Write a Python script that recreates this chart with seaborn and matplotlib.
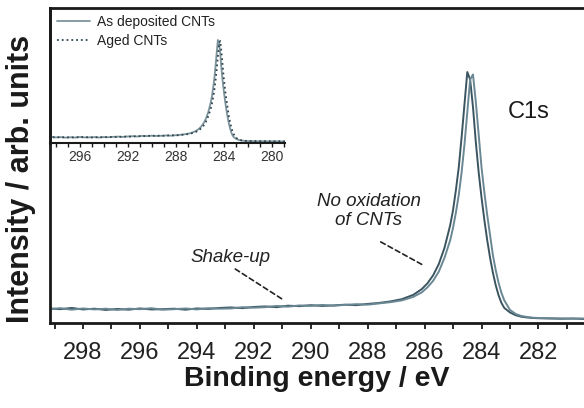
import numpy as np
import pandas as pd
import seaborn as sns
import matplotlib.pyplot as plt
from matplotlib.ticker import MultipleLocator

# Binding energy grid (eV)
energy = [299.2, 298.8, 298.4, 298.0, 297.6, 297.2, 296.8, 296.4, 296.0, 295.6,
          295.2, 294.8, 294.4, 294.0, 293.6, 293.2, 292.8, 292.4, 292.0, 291.6,
          291.2, 290.8, 290.4, 290.0, 289.6, 289.2, 288.8, 288.4, 288.0, 287.6,
          287.2, 286.8, 286.4,
          286.1, 285.9, 285.7, 285.5, 285.3, 285.1,
          285.0, 284.9, 284.8, 284.7, 284.6, 284.5, 284.4, 284.3, 284.2, 284.1,
          284.0, 283.9, 283.8, 283.7, 283.6, 283.5, 283.4, 283.3, 283.2,
          283.0, 282.8, 282.6, 282.4, 282.2, 282.0,
          281.6, 281.2, 280.8, 280.4, 280.0, 279.5, 279.0, 278.5]

# normalised C1s intensity, as deposited CNTs
as_deposited = [0.058, 0.055, 0.060, 0.054, 0.057, 0.052, 0.056, 0.053, 0.058, 0.054,
                0.055, 0.057, 0.053, 0.058, 0.056, 0.060, 0.062, 0.059, 0.064, 0.066,
                0.063, 0.069, 0.067, 0.071, 0.068, 0.070, 0.073, 0.071, 0.076, 0.080,
                0.086, 0.095, 0.112,
                0.135, 0.158, 0.190, 0.235, 0.300, 0.390,
                0.450, 0.530, 0.620, 0.740, 0.870, 1.000, 0.970, 0.860, 0.720, 0.600,
                0.500, 0.410, 0.330, 0.260, 0.200, 0.150, 0.110, 0.080, 0.060,
                0.042, 0.031, 0.025, 0.022, 0.020, 0.019,
                0.018, 0.017, 0.018, 0.016, 0.017, 0.016, 0.015, 0.016]

# normalised C1s intensity, aged CNTs
aged = [0.055, 0.059, 0.053, 0.058, 0.054, 0.057, 0.052, 0.057, 0.055, 0.059,
        0.053, 0.055, 0.058, 0.054, 0.059, 0.057, 0.058, 0.063, 0.061, 0.063,
        0.068, 0.065, 0.070, 0.068, 0.072, 0.069, 0.072, 0.075, 0.073, 0.078,
        0.083, 0.090, 0.104,
        0.122, 0.142, 0.168, 0.205, 0.260, 0.330,
        0.380, 0.440, 0.510, 0.600, 0.710, 0.840, 0.970, 0.990, 0.880, 0.750,
        0.620, 0.520, 0.430, 0.350, 0.270, 0.210, 0.160, 0.120, 0.090,
        0.052, 0.036, 0.028, 0.024, 0.021, 0.020,
        0.019, 0.018, 0.017, 0.018, 0.016, 0.017, 0.016, 0.015]

main_ticks = [298, 296, 294, 292, 290, 288, 286, 284, 282]
inset_ticks = [296, 292, 288, 284, 280]

df = pd.DataFrame({'energy': energy, 'As deposited CNTs': as_deposited, 'Aged CNTs': aged})

sns.set_theme(style='ticks')
plt.rcParams['font.family'] = ['Liberation Sans', 'DejaVu Sans']

fig = plt.figure(figsize=(5.84, 4.08), dpi=100)
ax = fig.add_axes([50 / 584, 85 / 408, 534 / 584, 315 / 408])

sns.lineplot(data=df, x='energy', y='As deposited CNTs', ax=ax, color='#3b5560', lw=1.4)
sns.lineplot(data=df, x='energy', y='Aged CNTs', ax=ax, color='#6a8794', lw=1.4)

ax.set_xlim(299.16, 280.4)
ax.set_ylim(0, 1.255)
ax.set_xticks(main_ticks)
ax.xaxis.set_minor_locator(MultipleLocator(1))
ax.set_yticks([])
ax.tick_params(axis='x', which='both', direction='out', length=4, width=1.3,
               colors='#1a1a1a', labelsize=17, pad=10)
ax.tick_params(axis='x', labelcolor='#222222')
for side in ['left', 'bottom', 'top']:
    ax.spines[side].set_linewidth(2)
    ax.spines[side].set_color('#1a1a1a')
ax.spines['right'].set_visible(False)
ax.set_xlabel('Binding energy / eV', fontsize=20.5, fontweight='bold', color='#1a1a1a', labelpad=1)
ax.set_ylabel('Intensity / arb. units', fontsize=22, fontweight='bold', color='#1a1a1a')
ax.yaxis.set_label_coords(-0.026, 0.457)

ax.text(282.33, 0.84, 'C1s', fontsize=17, ha='center', va='center', color='#1a1a1a')

# annotations with short dashed pointers
dash = dict(arrowstyle='-', linestyle=(0, (3, 2)), color='#222222', lw=1.2, shrinkA=0, shrinkB=0)
ax.text(292.82, 0.259, 'Shake-up', fontsize=13.5, style='italic', ha='center', va='center',
        color='#222222')
ax.annotate('', xy=(290.96, 0.092), xytext=(292.65, 0.215), arrowprops=dash)
ax.text(287.96, 0.446, 'No oxidation\nof CNTs', fontsize=13.5, style='italic', ha='center',
        va='center', color='#222222', linespacing=1.2)
ax.annotate('', xy=(286.06, 0.231), xytext=(287.54, 0.323), arrowprops=dash)

# inset with the full survey of the peak
axin = fig.add_axes([50 / 584, 265 / 408, 235 / 584, 135 / 408])
axin.patch.set_alpha(0)
sns.lineplot(data=df, x='energy', y='As deposited CNTs', ax=axin, color='#7d949c', lw=1.3,
             label='As deposited CNTs')
sns.lineplot(data=df, x='energy', y='Aged CNTs', ax=axin, color='#2f4650', lw=1.3,
             ls=':', label='Aged CNTs')
axin.set_xlim(298.5, 278.9)
axin.set_ylim(0, 1.31)
axin.set_xticks(inset_ticks)
axin.xaxis.set_minor_locator(MultipleLocator(1))
axin.set_yticks([])
axin.set_xlabel('')
axin.set_ylabel('')
axin.tick_params(axis='x', which='both', direction='out', length=3, width=1,
                 colors='#1a1a1a', labelsize=10, pad=2)
axin.tick_params(axis='x', labelcolor='#333333')
axin.spines['top'].set_visible(False)
axin.spines['right'].set_visible(False)
axin.spines['bottom'].set_linewidth(1.5)
axin.spines['bottom'].set_color('#1a1a1a')
axin.spines['left'].set_linewidth(2)
axin.spines['left'].set_color('#1a1a1a')
axin.legend(loc='upper left', frameon=False, fontsize=10, handlelength=2.4,
            labelspacing=0.35, borderaxespad=0.2, borderpad=0.3, handletextpad=0.5,
            labelcolor='#222222')

fig.savefig('out.png', dpi=100)
